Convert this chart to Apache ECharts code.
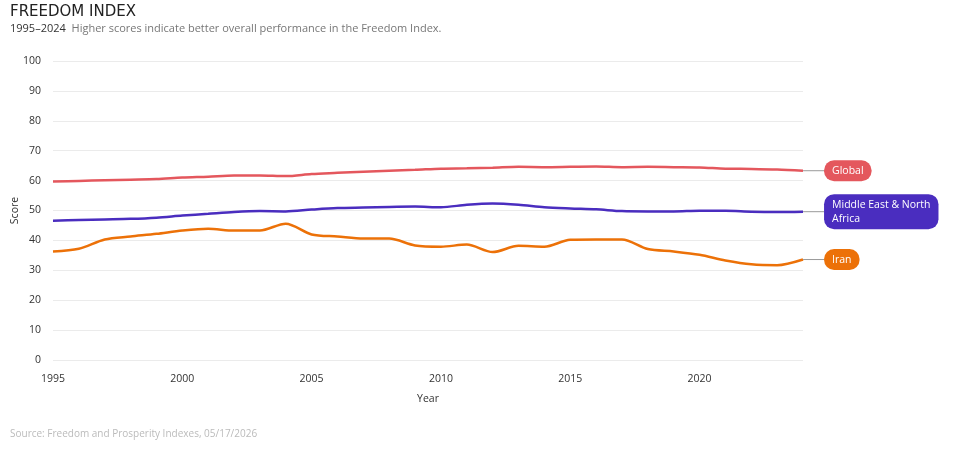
<!DOCTYPE html>
<html>
<head>
<meta charset="utf-8">
<script src="https://cdn.jsdelivr.net/npm/echarts@6/dist/echarts.min.js"></script>
<style>
  html, body { margin: 0; padding: 0; background: #fff; }
  #mychart { width: 957px; height: 452px; }
</style>
</head>
<body>
<div id="mychart"></div>
<script>
// data
var years = [1995, 1996, 1997, 1998, 1999, 2000, 2001, 2002, 2003, 2004, 2005, 2006, 2007, 2008, 2009,
    2010, 2011, 2012, 2013, 2014, 2015, 2016, 2017, 2018, 2019, 2020, 2021, 2022, 2023, 2024]
var globalScores = [59.7, 59.9, 60.1, 60.3, 60.5, 61.0, 61.3, 61.7, 61.7, 61.5, 62.2, 62.6, 63.0, 63.3, 63.6,
    64.0, 64.1, 64.3, 64.6, 64.5, 64.6, 64.7, 64.5, 64.6, 64.5, 64.4, 64.0, 63.9, 63.7, 63.3]
var menaScores = [46.6, 46.8, 47.0, 47.2, 47.6, 48.3, 48.9, 49.5, 49.8, 49.7, 50.3, 50.8, 51.0, 51.2, 51.3,
    51.1, 51.9, 52.3, 51.9, 51.1, 50.7, 50.4, 49.8, 49.7, 49.7, 49.9, 49.9, 49.6, 49.5, 49.6]
var iranScores = [36.3, 37.2, 40.3, 41.3, 42.2, 43.3, 43.9, 43.3, 43.3, 45.6, 42.0, 41.3, 40.6, 40.6, 38.3,
    37.9, 38.6, 36.1, 38.2, 37.9, 40.2, 40.3, 40.3, 37.1, 36.3, 35.2, 33.3, 32.0, 31.7, 33.6]
var seriesNames = ['Global', 'Middle East & North\nAfrica', 'Iran']
var seriesColors = ['#e4575d', '#4a2dbf', '#ec7108']

var font = '"Open Sans", Lato, sans-serif'

function makeSeries(name, values, color, dy) {
    var pts = []
    for (var i = 0; i < years.length; i++) {
        var item = { value: [years[i], values[i]] }
        if (i == years.length - 1) {
            item.label = {
                show: true,
                position: 'right',
                distance: 2,
                offset: [0, dy],
                formatter: name,
                color: '#fff',
                opacity: 1,
                backgroundColor: color,
                borderRadius: 10,
                padding: [4, 8, 3, 8],
                fontSize: 10.5,
                lineHeight: 14,
                fontFamily: font,
            }
        }
        pts.push(item)
    }
    return {
        name: name,
        type: 'line',
        data: pts,
        smooth: 0.3,
        symbol: 'circle',
        symbolSize: 0.1,
        showSymbol: true,
        lineStyle: { color: color, width: 2.5 },
        itemStyle: { color: color },
        labelLayout: { dx: 19 },
        labelLine: { show: true, lineStyle: { color: '#999', width: 1 } },
        animation: false,
    }
}

var myChart = echarts.init(document.getElementById('mychart'))

var option = {
    animation: false,
    title: {
        text: 'FREEDOM INDEX',
        subtext: '{y|1995–2024}  {d|Higher scores indicate better overall performance in the Freedom Index.}',
        left: 5,
        top: 0,
        itemGap: 3,
        textStyle: { fontFamily: '"DejaVu Sans", sans-serif', fontSize: 15, fontWeight: 'normal', color: '#222' },
        subtextStyle: {
            fontFamily: font,
            fontSize: 11,
            rich: {
                y: { color: '#333', fontSize: 11, fontFamily: font },
                d: { color: '#777', fontSize: 11, fontFamily: font },
            },
        },
    },
    grid: { left: 53, right: 154, top: 61, bottom: 92, outerBoundsMode: 'none', containLabel: false },
    xAxis: {
        type: 'value',
        min: 1995,
        max: 2024,
        interval: 5,
        name: 'Year',
        nameLocation: 'middle',
        nameGap: 34,
        nameTextStyle: { color: '#333', fontSize: 10.5, fontFamily: font },
        axisLine: { show: false },
        axisTick: { show: false },
        splitLine: { show: false },
        axisLabel: {
            color: '#333', fontSize: 10.5, fontFamily: font, margin: 14,
            showMaxLabel: false,
            formatter: function (v) { return String(v) },
        },
    },
    yAxis: {
        type: 'value',
        min: 0,
        max: 100,
        interval: 10,
        name: 'Score',
        nameLocation: 'middle',
        nameGap: 32,
        nameMoveOverlap: false,
        nameTextStyle: { color: '#333', fontSize: 10.5, fontFamily: font },
        axisLine: { show: false },
        axisTick: { show: false },
        splitLine: { lineStyle: { color: '#ebebeb', width: 1 } },
        axisLabel: { color: '#333', fontSize: 10.5, fontFamily: font, margin: 12 },
    },
    graphic: [{
        type: 'text',
        left: 10,
        top: 429,
        style: {
            text: 'Source: Freedom and Prosperity Indexes, 05/17/2026',
            fill: '#bbb',
            fontSize: 10,
            fontFamily: font,
        },
    }],
    series: [
        makeSeries(seriesNames[0], globalScores, seriesColors[0], 0),
        makeSeries(seriesNames[1], menaScores, seriesColors[1], 6),
        makeSeries(seriesNames[2], iranScores, seriesColors[2], 0),
    ],
}

myChart.setOption(option)
</script>
</body>
</html>
